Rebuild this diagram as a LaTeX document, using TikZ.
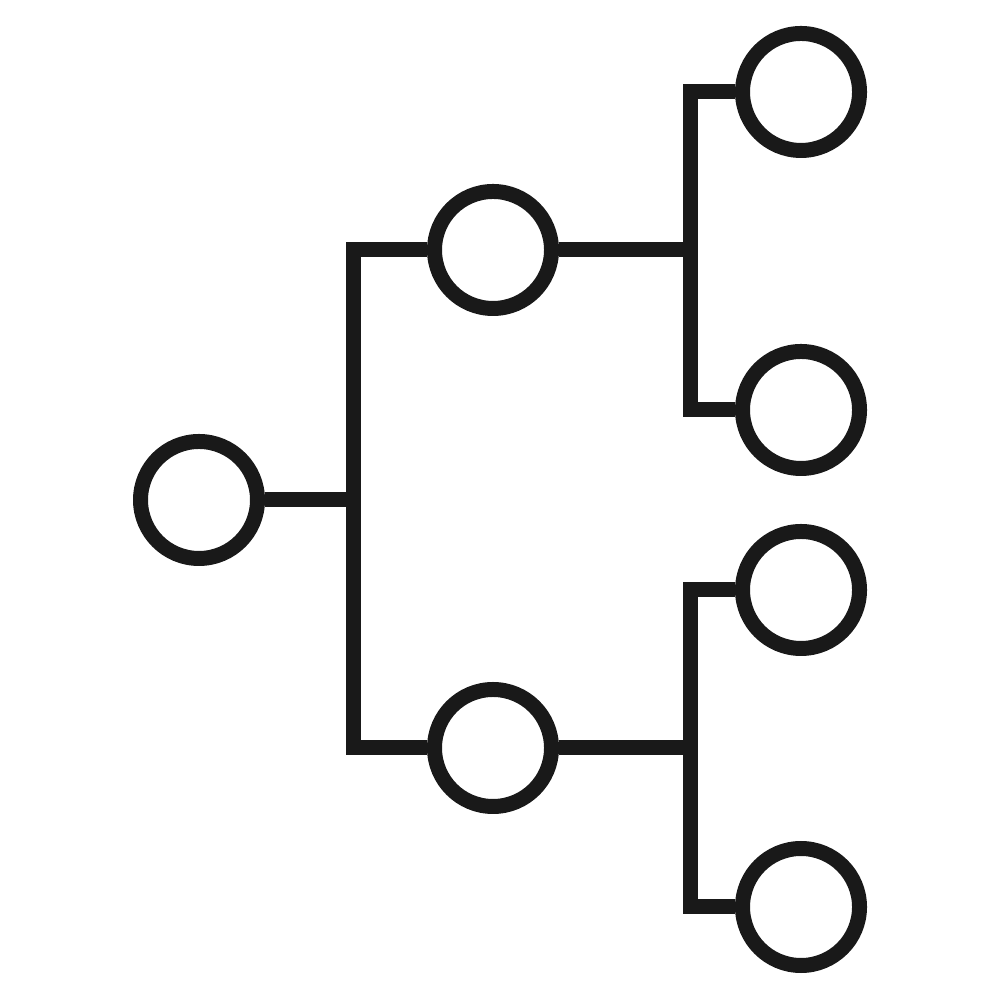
\documentclass[tikz,border=0pt]{standalone}
\usetikzlibrary{calc}
\begin{document}
\begin{tikzpicture}[
    	ring/.style={draw=black!90,circle,line width=0.15cm,minimum size=1.17cm,inner sep=0pt},
    	wire/.style={draw=black!90,line width=0.15cm,line join=miter}]
    	\useasboundingbox (0,0) rectangle (10,10);

    	\node[ring] (root) at (1.99,5.00) {};
    	\node[ring] (mtop) at (4.93,7.50) {};
    	\node[ring] (mbot) at (4.93,2.52) {};
    	\node[ring] (la) at (8.01,9.08) {};
    	\node[ring] (lb) at (8.01,5.90) {};
    	\node[ring] (lc) at (8.01,4.10) {};
    	\node[ring] (ld) at (8.01,0.93) {};

    	\coordinate (trunk) at (3.53,5.00);
    	\coordinate (jtop) at (6.90,7.50);
    	\coordinate (jbot) at (6.90,2.52);

    	\draw[wire] (root) -- (trunk);
    	\draw[wire] (mtop.west) -| (trunk) |- (mbot.west);

    	\draw[wire] (mtop) -- (jtop);
    	\draw[wire] (la.west) -| (jtop) |- (lb.west);

    	\draw[wire] (mbot) -- (jbot);
    	\draw[wire] (lc.west) -| (jbot) |- (ld.west);
\end{tikzpicture}
\end{document}
